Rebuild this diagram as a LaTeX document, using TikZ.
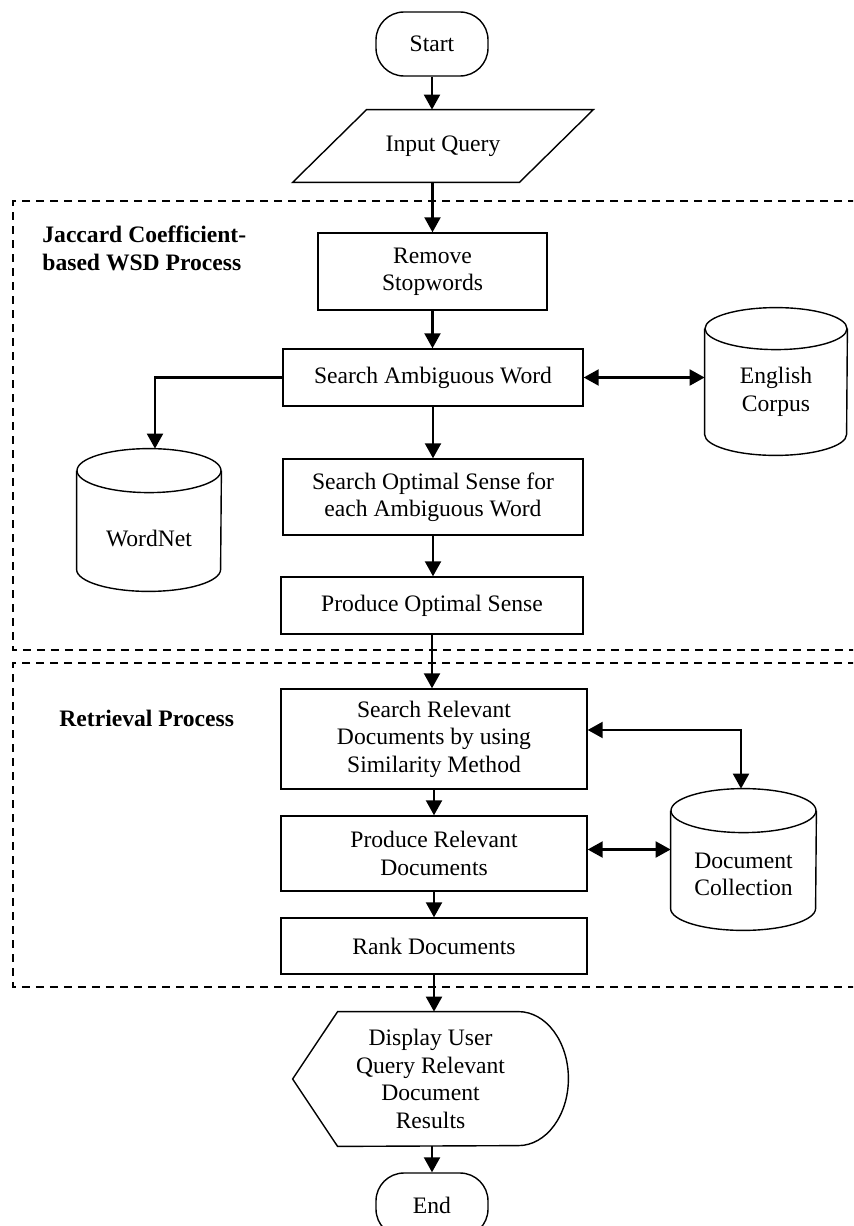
\documentclass[tikz,border=0pt]{standalone}
\usepackage{fontspec}
\setmainfont{Liberation Serif}
\usetikzlibrary{arrows.meta,calc}
\newcommand\fsz{\fontsize{11.8}{13.7}\selectfont}
\newcommand\drawcyl[3]{%
  \draw[outline] ([yshift=-#3]#1.north west) -- ([yshift=#3]#1.south west)
     arc[start angle=180,end angle=360,x radius=#2,y radius=#3] -- ([yshift=-#3]#1.north east);
  \draw[outline] ([yshift=-#3]#1.north) ellipse[x radius=#2, y radius=#3];
}
\tikzset{
  outline/.style={line width=0.7pt},
  procbox/.style={draw, line width=0.7pt, rectangle, align=center, inner sep=0pt},
  term/.style={draw, line width=0.7pt, rectangle, rounded corners=14pt, align=center, inner sep=0pt, minimum width=56pt, minimum height=32pt},
  frame/.style={inner sep=0pt, align=center},
  txt/.style={inner sep=0pt, align=center},
  arr/.style={line width=1.1pt, -{Triangle[width=8pt,length=7.5pt]}},
  dbl/.style={line width=1.1pt, {Triangle[width=8pt,length=7.5pt]}-{Triangle[width=8pt,length=7.5pt]}},
  region/.style={line width=0.65pt, dash pattern=on 4pt off 3pt},
  title/.style={font=\fsz\bfseries, align=left, anchor=west, inner sep=0pt},
}
\begin{document}
\begin{tikzpicture}[x=0.5pt,y=-0.5pt,font=\fsz]
\clip (0,0) rectangle (853,1226);
\fill[white] (0,0) rectangle (853,1226);

% regions
\draw[region] (870,201) -- (13,201) -- (13,650) -- (870,650);
\draw[region] (870,663) -- (13,663) -- (13,987) -- (870,987);
\node[title] (t1) at (42,248.5) {Jaccard Coefficient-\\based WSD Process};
\node[title] (t2) at (59,718) {Retrieval Process};

% main flow
\node[term] (start) at (432,44) {Start};
\node[frame, minimum width=113pt, minimum height=36pt] (input) at (443,146) {Input Query};
\draw[outline] ([xshift=18.5pt]input.north west) -- ([xshift=18.5pt]input.north east)
   -- ([xshift=-18.5pt]input.south east) -- ([xshift=-18.5pt]input.south west) -- cycle;
\node[procbox, minimum width=114.5pt, minimum height=38.5pt] (remove) at (432.5,271.5) {Remove\\Stopwords};
\node[procbox, minimum width=150pt, minimum height=28.5pt] (search) at (433,377.5) {Search Ambiguous Word};
\node[procbox, minimum width=150pt, minimum height=38pt] (optimal) at (433,497) {Search Optimal Sense for\\each Ambiguous Word};
\node[procbox, minimum width=151pt, minimum height=28.5pt] (prodopt) at (432,605.5) {Produce Optimal Sense};
\node[procbox, minimum width=153pt, minimum height=50pt] (srel) at (434,739) {Search Relevant\\Documents by using\\Similarity Method};
\node[procbox, minimum width=153pt, minimum height=37.5pt] (prel) at (434,853.5) {Produce Relevant\\Documents};
\node[procbox, minimum width=153pt, minimum height=28pt] (rank) at (434,946) {Rank Documents};
\node[frame, minimum width=137.5pt, minimum height=67pt] (disp) at (430.5,1079) {Display User\\Query Relevant\\Document\\Results};
\draw[outline] (disp.west) -- ([xshift=22.5pt]disp.north west) -- ([xshift=-25pt]disp.north east)
   arc[start angle=90,end angle=-90,x radius=25pt,y radius=33.5pt]
   -- ([xshift=22.5pt]disp.south west) -- cycle;
\node[term] (end) at (432,1205) {End};

% databases
\node[frame, minimum width=71pt, minimum height=73.5pt] (corpus) at (776,381.5) {};
\node[txt] (corpuslbl) at (776,392) {English\\Corpus};
\drawcyl{corpus}{35.5pt}{10.5pt}
\node[frame, minimum width=72pt, minimum height=71pt] (wordnet) at (149,520) {};
\node[txt] (wordnetlbl) at (149,538) {WordNet};
\drawcyl{wordnet}{36pt}{11pt}
\node[frame, minimum width=72.5pt, minimum height=70.5pt] (doccol) at (743.5,859.5) {};
\node[txt] (doccollbl) at (743.5,874.5) {Document\\Collection};
\drawcyl{doccol}{36.25pt}{11pt}

% connectors
\draw[arr] (start.south) -- (start.south |- input.north);
\draw[arr] (input.south -| remove.north) -- (remove.north);
\draw[arr] (remove.south) -- (remove.south |- search.north);
\draw[arr] (search.south) -- (search.south |- optimal.north);
\draw[arr] (optimal.south) -- (optimal.south |- prodopt.north);
\draw[arr] (prodopt.south) -- (prodopt.south |- srel.north);
\draw[arr] (srel.south) -- (prel.north);
\draw[arr] (prel.south) -- (rank.north);
\draw[arr] (rank.south) -- (rank.south |- disp.north);
\draw[arr] (disp.south -| end.north) -- (end.north);

\draw[arr] (search.west) -| ([xshift=3pt]wordnet.north);
\draw[dbl] (search.east) -- (search.east -| corpus.west);
\draw[dbl] ([yshift=4.5pt]srel.east) -| ([xshift=-1.25pt]doccol.north);
\draw[dbl] ([yshift=2pt]prel.east) -- ([yshift=2pt]prel.east -| doccol.west);
\end{tikzpicture}
\end{document}
